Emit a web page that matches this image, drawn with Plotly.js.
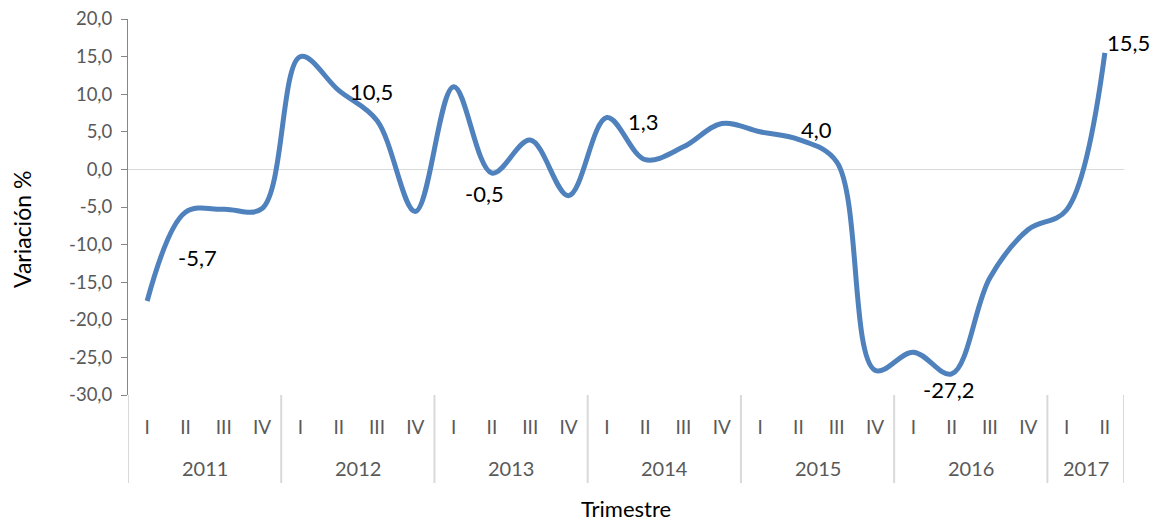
<!DOCTYPE html>
<html>
<head>
<meta charset="utf-8">
<script src="https://cdn.plot.ly/plotly-3.0.1.min.js"></script>
<style>html,body{margin:0;padding:0;background:#fff;}#chart{width:1159px;height:522px;}</style>
</head>
<body>
<div id="chart"></div>
<script>
// Data
var years = ['2011', '2012', '2013', '2014', '2015', '2016', '2017'];
var quarters = ['I', 'II', 'III', 'IV'];
var quartersPerYear = [4, 4, 4, 4, 4, 4, 2];
var values = [
  -17.5, -5.7, -5.3, -5.2,
  15.0, 10.5, 6.5, -5.6,
  11.0, -0.5, 3.9, -3.5,
  6.9, 1.3, 3.0, 6.1,
  5.0, 4.0, 1.0, -26.7,
  -24.3, -27.2, -14.4, -8.0,
  -5.4, 15.5
];
var labelledIdx = [1, 5, 9, 13, 17, 21, 25];
var yTicks = [-30, -25, -20, -15, -10, -5, 0, 5, 10, 15, 20];
var xTitle = 'Trimestre';
var yTitle = 'Variación %';

function fmt(v) { return v.toFixed(1).replace('.', ','); }

// Build category positions from the arrays
var xIdx = [], xQuarter = [], yearStart = [];
var n = 0;
years.forEach(function (y, i) {
  yearStart.push(n);
  for (var q = 0; q < quartersPerYear[i]; q++) { xIdx.push(n); xQuarter.push(quarters[q]); n++; }
});

var FONT = 'Lato, "Open Sans", sans-serif';
var PH = 376, PW = 996;
var divBottom = -(483 - 395) / PH;
var yearY = -(468 - 395) / PH;

var shapes = [];
var annotations = [];
years.forEach(function (y, i) {
  var s = yearStart[i], e = s + quartersPerYear[i];
  shapes.push({type: 'line', xref: 'x', yref: 'paper', x0: s - 0.5, x1: s - 0.5, y0: 0, y1: divBottom,
    line: {color: '#d9d9d9', width: 2}});
  if (i === years.length - 1) {
    shapes.push({type: 'line', xref: 'x', yref: 'paper', x0: e - 0.5, x1: e - 0.5, y0: 0, y1: divBottom,
      line: {color: '#d9d9d9', width: 2}});
  }
  annotations.push({x: (s + e - 1) / 2, y: yearY, xref: 'x', yref: 'paper', text: y, showarrow: false,
    yanchor: 'middle', font: {family: FONT, size: 20, color: '#595959'}});
});

// axis titles
annotations.push({x: (22 - 128) / PW, y: (395 - 230) / PH, xref: 'paper', yref: 'paper',
  text: yTitle, textangle: -90, showarrow: false, xanchor: 'center', yanchor: 'middle',
  font: {family: FONT, size: 23, color: '#000'}});
annotations.push({x: 0.5, y: -(508 - 395) / PH, xref: 'paper', yref: 'paper',
  text: xTitle, showarrow: false, xanchor: 'center', yanchor: 'middle',
  font: {family: FONT, size: 22, color: '#000'}});

// label offsets (style) in pixels: [dx, dy]
var offs = {1: [12, 45], 5: [33, 1], 9: [-7, 20], 13: [-2, -38], 17: [18, -10], 21: [-3, 16], 25: [24, -10]};
labelledIdx.forEach(function (i) {
  annotations.push({
    x: xIdx[i], y: values[i], xref: 'x', yref: 'y',
    text: fmt(values[i]), showarrow: false,
    xshift: offs[i][0], yshift: -offs[i][1],
    font: {family: FONT, size: 22, color: '#000'}
  });
});

var trace = {
  x: xIdx,
  y: values,
  type: 'scatter',
  mode: 'lines',
  line: {color: '#4F81BD', width: 5, shape: 'spline', smoothing: 1},
  hoverinfo: 'skip'
};

var layout = {
  width: 1159, height: 522,
  margin: {l: 128, r: 35, t: 19, b: 127},
  paper_bgcolor: '#fff', plot_bgcolor: '#fff',
  showlegend: false,
  font: {family: FONT, color: '#595959'},
  xaxis: {
    range: [-0.5, n - 0.5],
    tickvals: xIdx, ticktext: xQuarter,
    showline: false, showgrid: false, zeroline: false,
    ticks: '', ticklabelstandoff: 19,
    tickfont: {size: 19, color: '#595959'}
  },
  yaxis: {
    range: [-30, 20],
    tickvals: yTicks, ticktext: yTicks.map(fmt),
    showline: true, linecolor: '#868686', linewidth: 1,
    ticks: 'outside', ticklen: 6, tickcolor: '#868686',
    ticklabelstandoff: 5,
    showgrid: false,
    zeroline: true, zerolinecolor: '#d9d9d9', zerolinewidth: 1.5,
    tickfont: {size: 18.5, color: '#595959'}
  },
  shapes: shapes,
  annotations: annotations
};

Plotly.newPlot('chart', [trace], layout, {displayModeBar: false, staticPlot: true});
</script>
</body>
</html>
